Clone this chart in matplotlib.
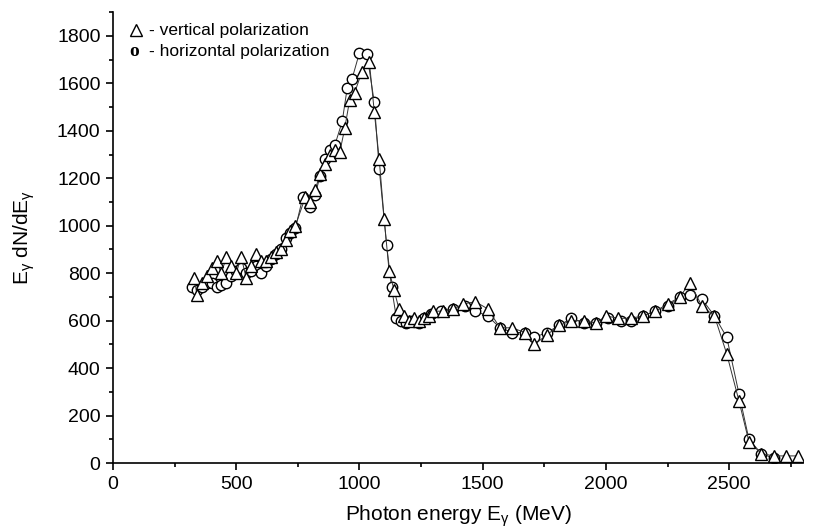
import matplotlib
matplotlib.use('Agg')
import matplotlib.pyplot as plt
from matplotlib.ticker import MultipleLocator

plt.rcParams['font.family'] = ['Liberation Sans', 'DejaVu Sans']
plt.rcParams['mathtext.fontset'] = 'custom'
plt.rcParams['mathtext.rm'] = 'Liberation Sans'
plt.rcParams['mathtext.it'] = 'Liberation Sans'

# ── 데이터: 수직 편광 (삼각형) ─────────────────────────────
vert_e = [330, 340, 360, 380, 400, 420, 440, 460, 480, 500, 520, 540, 560, 580,
          600, 620, 640, 660, 680, 700, 720, 740, 780, 800, 820, 840, 860, 880,
          900, 920, 940, 960, 980, 1010, 1040, 1060, 1080, 1100, 1120, 1140,
          1160, 1180, 1200, 1220, 1240, 1260, 1280, 1300, 1340, 1380, 1420,
          1470, 1520, 1570, 1620, 1670, 1710, 1760, 1810, 1860, 1910, 1960,
          2000, 2050, 2100, 2150, 2200, 2250, 2300, 2340, 2390, 2440, 2490,
          2540, 2580, 2630, 2680, 2730, 2780]
vert_n = [780, 710, 760, 790, 820, 850, 800, 870, 830, 800, 870, 780, 830, 880,
          850, 850, 870, 890, 900, 940, 980, 1000, 1120, 1100, 1150, 1220, 1260,
          1300, 1320, 1310, 1410, 1530, 1560, 1650, 1690, 1480, 1280, 1030, 810,
          730, 650, 620, 600, 610, 600, 610, 620, 640, 640, 650, 670, 680, 650,
          570, 570, 550, 500, 540, 580, 600, 600, 590, 620, 610, 610, 620, 640,
          670, 700, 760, 660, 620, 460, 260, 90, 40, 30, 30, 30]

# ── 데이터: 수평 편광 (원) ─────────────────────────────────
hor_e = [320, 340, 360, 380, 400, 420, 440, 460, 480, 500, 520, 540, 560, 580,
         600, 620, 640, 660, 680, 700, 720, 740, 770, 800, 820, 840, 860, 880,
         900, 930, 950, 970, 1000, 1030, 1060, 1080, 1110, 1130, 1150, 1170,
         1190, 1210, 1240, 1260, 1290, 1330, 1380, 1430, 1470, 1520, 1570,
         1620, 1670, 1710, 1760, 1810, 1860, 1910, 1960, 2010, 2060, 2100,
         2150, 2200, 2250, 2300, 2340, 2390, 2440, 2490, 2540, 2580, 2630, 2680]
hor_n = [740, 730, 740, 760, 760, 740, 750, 760, 790, 810, 820, 800, 810, 830,
         800, 830, 860, 880, 900, 950, 970, 990, 1120, 1080, 1130, 1210, 1280,
         1320, 1340, 1440, 1580, 1620, 1730, 1725, 1520, 1240, 920, 740, 610,
         600, 590, 600, 590, 610, 630, 640, 650, 660, 640, 620, 570, 550, 550,
         530, 550, 580, 610, 590, 590, 610, 600, 600, 620, 640, 660, 700, 710,
         690, 620, 530, 290, 100, 40, 20]

fig = plt.figure(figsize=(8.28, 5.31), dpi=100)
ax = fig.add_axes([0.1365, 0.128, 0.8335, 0.849])

ax.plot(hor_e, hor_n, '-', color='#333333', lw=0.7, marker='o', ms=7.5,
        mfc='white', mec='black', mew=1.0)
ax.plot(vert_e, vert_n, '-', color='#333333', lw=0.7, marker='^', ms=9,
        mfc='white', mec='black', mew=1.0)

ax.set_xlim(0, 2800)
ax.set_ylim(0, 1900)
ax.xaxis.set_major_locator(MultipleLocator(500))
ax.xaxis.set_minor_locator(MultipleLocator(250))
ax.yaxis.set_major_locator(MultipleLocator(200))
ax.yaxis.set_minor_locator(MultipleLocator(100))
ax.spines['top'].set_visible(False)
ax.spines['right'].set_visible(False)
ax.spines['left'].set_linewidth(1.2)
ax.spines['bottom'].set_linewidth(1.2)
ax.tick_params(which='major', length=5, width=1.2, labelsize=14, pad=4)
ax.tick_params(which='minor', length=3, width=1.2)
ax.set_xlabel(r'Photon energy E$_{\gamma}$ (MeV)', fontsize=15, labelpad=8)
ax.set_ylabel(r'E$_{\gamma}$ dN/dE$_{\gamma}$', fontsize=15, labelpad=14)

# 범례 (텍스트)
ax.plot([0.033], [0.96], transform=ax.transAxes, marker='^', ms=9,
        mfc='white', mec='black', mew=1.0, clip_on=False)
ax.text(0.052, 0.96, '- vertical polarization', transform=ax.transAxes,
        fontsize=12.5, va='center')
ax.text(0.024, 0.912, 'o', transform=ax.transAxes, fontsize=14, va='center',
        family='Liberation Serif', fontweight='bold')
ax.text(0.052, 0.912, '- horizontal polarization', transform=ax.transAxes,
        fontsize=12.5, va='center')

fig.savefig('out.png', dpi=100)
